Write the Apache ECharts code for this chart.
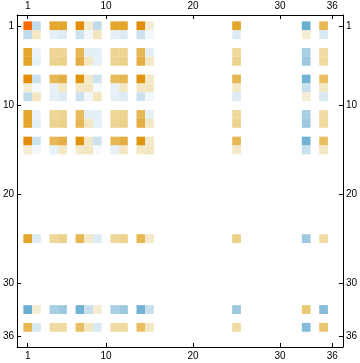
<!DOCTYPE html>
<html>
<head>
<meta charset="utf-8">
<script src="https://cdn.jsdelivr.net/npm/echarts@6/dist/echarts.min.js"></script>
<style>html,body{margin:0;padding:0;background:#fff}#c{width:360px;height:363px}</style>
</head>
<body>
<div id="c"></div>
<script>
// nonzero row/column indices of the 36x36 matrix
const indices = [1, 2, 4, 5, 7, 8, 9, 11, 12, 14, 15, 25, 33, 35];
const tickValues = [1, 10, 20, 30, 36];
// rows of the matrix restricted to the indices above
const row1  = [1.0, -0.25, 0.7, 0.7, 0.85, 0.08, -0.25, 0.7, 0.7, 0.85, 0.08, 0.7, -0.7, 0.55];
const row2  = [-0.25, 0.12, -0.08, -0.1, -0.18, -0.04, 0.15, -0.08, -0.1, -0.18, -0.04, -0.1, 0.08, -0.12];
const row4  = [0.7, -0.06, 0.35, 0.35, 0.55, -0.08, -0.08, 0.35, 0.35, 0.55, -0.08, 0.32, -0.4, 0.28];
const row5  = [0.7, -0.08, 0.37, 0.4, 0.6, 0.12, -0.08, 0.37, 0.4, 0.6, 0.12, 0.38, -0.45, 0.3];
const row7  = [0.85, -0.18, 0.55, 0.6, 0.8, 0.1, -0.18, 0.52, 0.55, 0.8, 0.1, 0.55, -0.65, 0.5];
const row8  = [0.08, -0.03, -0.07, 0.12, 0.12, 0.15, -0.03, -0.07, 0.12, 0.12, 0.15, 0.1, -0.2, 0.12];
const row9  = [-0.25, 0.13, -0.08, -0.1, -0.18, -0.04, 0.15, -0.08, -0.1, -0.18, -0.04, -0.1, 0.08, -0.12];
const row11 = [0.7, -0.06, 0.35, 0.37, 0.52, -0.08, -0.08, 0.33, 0.35, 0.55, -0.08, 0.32, -0.4, 0.28];
const row12 = [0.7, -0.08, 0.37, 0.4, 0.55, 0.12, -0.08, 0.37, 0.4, 0.6, 0.12, 0.38, -0.45, 0.3];
const row14 = [0.85, -0.18, 0.55, 0.6, 0.8, 0.1, -0.18, 0.55, 0.6, 0.8, 0.1, 0.55, -0.65, 0.5];
const row15 = [0.08, -0.04, -0.07, 0.12, 0.1, 0.15, -0.03, -0.07, 0.12, 0.12, 0.15, 0.1, -0.2, 0.12];
const row25 = [0.7, -0.1, 0.32, 0.38, 0.55, 0.1, -0.1, 0.32, 0.38, 0.55, 0.1, 0.4, -0.45, 0.28];
const row33 = [-0.7, 0.08, -0.4, -0.45, -0.65, -0.2, 0.08, -0.4, -0.45, -0.65, -0.2, -0.45, 0.45, -0.55];
const row35 = [0.55, -0.12, 0.28, 0.3, 0.5, 0.12, -0.12, 0.28, 0.3, 0.5, 0.12, 0.28, -0.55, 0.47];
const rows = [row1, row2, row4, row5, row7, row8, row9, row11, row12, row14, row15, row25, row33, row35];

const data = [];
rows.forEach((r, i) => r.forEach((v, j) => data.push([indices[j], indices[i], v])));

const palette = ['#3b8cc0','#4a96c6','#5aa1cb','#6aaed0','#7ab5d6','#90c2dd','#a8cfe3','#b8d7e8','#c8e0ed','#ddebf4',
  '#ffffff','#f3e8c8','#f2e1b4','#f0da9e','#ecd08a','#e9bf62','#e5ae44','#e3a52a','#e09510','#e68400','#ff6a00'];

const chart = echarts.init(document.getElementById('c'), null, {renderer: 'canvas'});
const font = {color: '#000', fontSize: 10, fontFamily: 'Liberation Sans, Arial, sans-serif'};
const axLine = {show: true, onZero: false, lineStyle: {color: '#000', width: 1}};
const axTick = {show: true, inside: true, length: 4, customValues: tickValues, lineStyle: {color: '#000'}};
function mkX(pos) {
  return {type: 'value', position: pos, min: -0.22, max: 37.22, splitLine: {show: false},
    axisLine: axLine, axisTick: axTick,
    axisLabel: Object.assign({customValues: tickValues, margin: 4}, font)};
}
function mkY(pos) {
  return {type: 'value', position: pos, inverse: true, min: -0.22, max: 37.22, splitLine: {show: false},
    axisLine: axLine, axisTick: axTick,
    axisLabel: Object.assign({customValues: tickValues, margin: 3}, font)};
}
chart.setOption({
  animation: false,
  grid: {left: 13, right: 14, top: 15, bottom: 16},
  xAxis: [mkX('bottom'), mkX('top')],
  yAxis: [mkY('left'), mkY('right')],
  visualMap: {show: false, type: 'continuous', min: -1, max: 1, dimension: 2, seriesIndex: 0,
    inRange: {color: palette}},
  series: [{
    type: 'custom',
    xAxisIndex: 0, yAxisIndex: 0,
    data: data,
    renderItem: function (params, api) {
      const a = api.coord([api.value(0) - 0.5, api.value(1) - 0.5]);
      const b = api.coord([api.value(0) + 0.5, api.value(1) + 0.5]);
      return {type: 'rect',
        shape: {x: Math.min(a[0], b[0]), y: Math.min(a[1], b[1]), width: Math.abs(b[0] - a[0]), height: Math.abs(b[1] - a[1])},
        style: {fill: api.visual('color')}};
    }
  }]
});
</script>
</body>
</html>
